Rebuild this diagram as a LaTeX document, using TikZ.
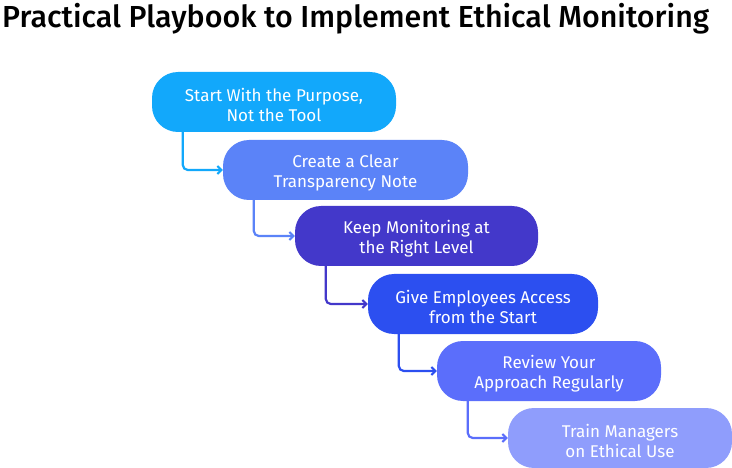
\documentclass[tikz,border=0pt]{standalone}
\usepackage{fontspec}
\setmainfont{Fira Sans}
\usetikzlibrary{arrows.meta}
\definecolor{cA}{HTML}{12A8FB}
\definecolor{cB}{HTML}{5B83F8}
\definecolor{cC}{HTML}{4338CA}
\definecolor{cD}{HTML}{2C4FF0}
\definecolor{cE}{HTML}{5B6EFB}
\definecolor{cF}{HTML}{8F9DFC}
\newcommand{\lowstrut}{\rule{0pt}{19pt}}
\tikzset{
  stepbox/.style={rounded corners=26pt, minimum height=60pt, text=white, align=center, font=\fontsize{17}{20}\selectfont, inner sep=0pt},
  link/.style={line width=2.2pt, rounded corners=5pt, -{Straight Barb[length=4pt,width=8pt,line width=2pt]}},
}
\begin{document}
\begin{tikzpicture}[x=1pt,y=-1pt]
\useasboundingbox (0,0) rectangle (732,468);
\node[anchor=west, inner sep=0pt, font=\fontsize{30.4}{34}\selectfont\fontspec{Fira Sans Medium}] (title) at (2,19) {Practical Playbook to Implement Ethical Monitoring};
\node[stepbox, fill=cA, minimum width=244pt] (b1) at (274,102) {\lowstrut Start With the Purpose,\\Not the Tool};
\node[stepbox, fill=cB, minimum width=245pt] (b2) at (345.5,170) {\lowstrut Create a Clear\\Transparency Note};
\node[stepbox, fill=cC, minimum width=243pt] (b3) at (416.5,236) {\lowstrut Keep Monitoring at\\the Right Level};
\node[stepbox, fill=cD, minimum width=230pt] (b4) at (483,304) {\lowstrut Give Employees Access\\from the Start};
\node[stepbox, fill=cE, minimum width=224pt] (b5) at (549,371) {\lowstrut Review Your\\Approach Regularly};
\node[stepbox, fill=cF, minimum width=224pt] (b6) at (620,438) {\lowstrut Train Managers\\on Ethical Use};
\draw[link, cA] ([xshift=31pt]b1.south west) |- (b2.west);
\draw[link, cB] ([xshift=31pt]b2.south west) |- (b3.west);
\draw[link, cC] ([xshift=31pt]b3.south west) |- (b4.west);
\draw[link, cD] ([xshift=31pt]b4.south west) |- (b5.west);
\draw[link, cE] ([xshift=31pt]b5.south west) |- (b6.west);
\end{tikzpicture}
\end{document}
